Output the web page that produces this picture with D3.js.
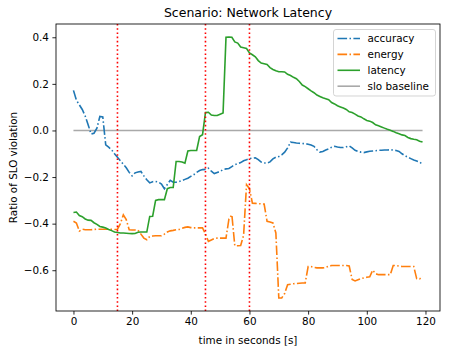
<!DOCTYPE html>
<html>
<head>
<meta charset="utf-8">
<script src="https://cdn.jsdelivr.net/npm/d3@7"></script>
<style>
  body { margin: 0; background: #fff; }
  text { font-family: "DejaVu Sans", sans-serif; }
</style>
</head>
<body>
<script>
// time index in seconds (one sample per second)
var seconds = d3.range(0, 120);

var accuracy = [
  0.172, 0.130, 0.110, 0.090, 0.062, 0.025, -0.015, -0.012, 0.010, 0.060,
  0.058, -0.062, -0.072, -0.083, -0.100, -0.115, -0.130, -0.145, -0.160, -0.180,
  -0.195, -0.182, -0.178, -0.176, -0.195, -0.212, -0.225, -0.220, -0.219, -0.222,
  -0.230, -0.250, -0.232, -0.214, -0.222, -0.222, -0.219, -0.215, -0.210, -0.205,
  -0.197, -0.190, -0.180, -0.172, -0.168, -0.167, -0.162, -0.175, -0.185, -0.180,
  -0.176, -0.168, -0.165, -0.163, -0.155, -0.147, -0.143, -0.138, -0.130, -0.126,
  -0.121, -0.119, -0.117, -0.125, -0.136, -0.140, -0.140, -0.135, -0.122, -0.115,
  -0.112, -0.105, -0.093, -0.075, -0.050, -0.052, -0.054, -0.055, -0.056, -0.057,
  -0.059, -0.062, -0.068, -0.083, -0.093, -0.090, -0.084, -0.079, -0.072, -0.068,
  -0.071, -0.073, -0.073, -0.070, -0.066, -0.075, -0.085, -0.090, -0.093, -0.095,
  -0.092, -0.089, -0.088, -0.087, -0.085, -0.085, -0.084, -0.084, -0.083, -0.084,
  -0.086, -0.090, -0.100, -0.108, -0.115, -0.121, -0.127, -0.131, -0.136, -0.145
];

var energy = [
  -0.390, -0.397, -0.432, -0.424, -0.426, -0.426, -0.426, -0.425, -0.424, -0.424,
  -0.424, -0.424, -0.424, -0.424, -0.425, -0.424, -0.400, -0.362, -0.383, -0.426,
  -0.427, -0.427, -0.428, -0.445, -0.462, -0.469, -0.455, -0.453, -0.452, -0.452,
  -0.452, -0.445, -0.436, -0.431, -0.429, -0.426, -0.425, -0.420, -0.416, -0.414,
  -0.417, -0.418, -0.418, -0.418, -0.418, -0.445, -0.476, -0.470, -0.464, -0.462,
  -0.462, -0.462, -0.462, -0.380, -0.362, -0.495, -0.495, -0.494, -0.450, -0.233,
  -0.250, -0.312, -0.313, -0.314, -0.315, -0.316, -0.390, -0.393, -0.397, -0.440,
  -0.719, -0.719, -0.700, -0.662, -0.660, -0.658, -0.657, -0.656, -0.655, -0.655,
  -0.584, -0.584, -0.588, -0.590, -0.590, -0.590, -0.588, -0.583, -0.580, -0.580,
  -0.580, -0.580, -0.580, -0.580, -0.582, -0.640, -0.646, -0.641, -0.636, -0.633,
  -0.630, -0.628, -0.600, -0.615, -0.619, -0.619, -0.619, -0.619, -0.619, -0.580,
  -0.580, -0.582, -0.584, -0.584, -0.584, -0.584, -0.584, -0.636, -0.637, -0.627
];

var latency = [
  -0.352, -0.350, -0.365, -0.370, -0.380, -0.385, -0.386, -0.396, -0.403, -0.412,
  -0.415, -0.419, -0.425, -0.430, -0.436, -0.438, -0.440, -0.440, -0.441, -0.442,
  -0.443, -0.442, -0.437, -0.436, -0.436, -0.436, -0.369, -0.368, -0.300, -0.297,
  -0.297, -0.297, -0.250, -0.245, -0.245, -0.133, -0.133, -0.135, -0.140, -0.088,
  -0.086, -0.086, -0.086, -0.026, -0.018, 0.077, 0.078, 0.066, 0.064, 0.064,
  0.070, 0.075, 0.400, 0.401, 0.400, 0.380, 0.375, 0.358, 0.355, 0.352,
  0.333, 0.325, 0.316, 0.300, 0.289, 0.286, 0.283, 0.270, 0.262, 0.256,
  0.252, 0.252, 0.251, 0.241, 0.236, 0.228, 0.222, 0.210, 0.195, 0.188,
  0.179, 0.170, 0.162, 0.152, 0.146, 0.140, 0.136, 0.132, 0.120, 0.114,
  0.106, 0.101, 0.096, 0.090, 0.080, 0.077, 0.070, 0.062, 0.058, 0.050,
  0.043, 0.040, 0.034, 0.024, 0.020, 0.015, 0.010, 0.005, 0.001, -0.004,
  -0.010, -0.014, -0.019, -0.022, -0.030, -0.035, -0.038, -0.040, -0.046, -0.050
];

var sloBaseline = 0;
var events = [15, 45, 60];

var xTicks = [0, 20, 40, 60, 80, 100, 120],
    yTicks = [-0.6, -0.4, -0.2, 0.0, 0.2, 0.4];

var seriesNames = ['accuracy', 'energy', 'latency', 'slo baseline'];

var margin = {top: 24, right: 9, bottom: 41, left: 56},
    outerWidth = 449,
    outerHeight = 352,
    width = outerWidth - margin.left - margin.right,
    height = outerHeight - margin.top - margin.bottom;

var svg = d3.select('body').append('svg')
    .attr('width', outerWidth)
    .attr('height', outerHeight);

var g = svg.append('g')
    .attr('transform', 'translate(' + margin.left + ',' + margin.top + ')');

// matplotlib style 5% margins
var xMin = d3.min(seconds), xMax = d3.max(seconds),
    xPad = (xMax - xMin) * 0.05;
var allVals = accuracy.concat(energy, latency, [sloBaseline]);
var yMin = d3.min(allVals), yMax = d3.max(allVals),
    yPad = (yMax - yMin) * 0.05;

var x = d3.scaleLinear().domain([xMin - xPad, xMax + xPad]).range([0, width]);
var y = d3.scaleLinear().domain([yMin - yPad, yMax + yPad]).range([height, 0]);

var series = [
  {name: 'accuracy', values: accuracy, color: '#1f77b4', dash: '9.6,2.4,1.5,2.4'},
  {name: 'energy', values: energy, color: '#ff7f0e', dash: '9.6,2.4,1.5,2.4'},
  {name: 'latency', values: latency, color: '#2ca02c', dash: null}
];

var line = d3.line()
    .x(function(d) { return x(d[0]); })
    .y(function(d) { return y(d[1]); });

// slo baseline
g.append('path')
    .attr('d', line([[xMin, sloBaseline], [xMax, sloBaseline]]))
    .attr('fill', 'none')
    .attr('stroke', '#a9a9a9')
    .attr('stroke-width', 1.6);

g.selectAll('.series')
    .data(series)
    .enter()
    .append('path')
    .attr('class', 'series')
    .attr('d', function(s) { return line(seconds.map(function(t, i) { return [t, s.values[i]]; })); })
    .attr('fill', 'none')
    .attr('stroke', function(s) { return s.color; })
    .attr('stroke-width', 1.6)
    .attr('stroke-dasharray', function(s) { return s.dash; });

// event markers
g.selectAll('.event')
    .data(events)
    .enter()
    .append('line')
    .attr('class', 'event')
    .attr('x1', function(d) { return x(d); })
    .attr('x2', function(d) { return x(d); })
    .attr('y1', 0)
    .attr('y2', height)
    .attr('stroke', 'red')
    .attr('stroke-width', 1.6)
    .attr('stroke-dasharray', '1.6,2.6');

// axes
var xAxis = g.append('g')
    .attr('transform', 'translate(0,' + height + ')')
    .call(d3.axisBottom(x).tickValues(xTicks).tickSize(3.6).tickPadding(3.5).tickFormat(d3.format('d')));
var yAxis = g.append('g')
    .call(d3.axisLeft(y).tickValues(yTicks).tickSize(3.6).tickPadding(3.5).tickFormat(d3.format('.1f')));

[xAxis, yAxis].forEach(function(a) {
  a.select('.domain').remove();
  a.selectAll('line').attr('stroke', '#000').attr('stroke-width', 0.85);
  a.selectAll('text').attr('font-size', '10.4px').attr('fill', '#000')
      .style('font-family', '"DejaVu Sans", sans-serif');
});

// frame
g.append('rect')
    .attr('width', width)
    .attr('height', height)
    .attr('fill', 'none')
    .attr('stroke', '#000')
    .attr('stroke-width', 0.85);

// title and labels
svg.append('text')
    .attr('x', margin.left + width / 2)
    .attr('y', 17)
    .attr('text-anchor', 'middle')
    .attr('font-size', '12.5px')
    .text('Scenario: Network Latency');

svg.append('text')
    .attr('x', margin.left + width / 2)
    .attr('y', 344)
    .attr('text-anchor', 'middle')
    .attr('font-size', '10.4px')
    .text('time in seconds [s]');

svg.append('text')
    .attr('transform', 'translate(17,' + (margin.top + height / 2) + ') rotate(-90)')
    .attr('text-anchor', 'middle')
    .attr('font-size', '10.4px')
    .text('Ratio of SLO violation');

// legend
var legendItems = series.concat([{name: 'slo baseline', color: '#a9a9a9', dash: null}]);
var legend = svg.append('g').attr('transform', 'translate(333.5,29.5)');

legend.append('rect')
    .attr('width', 102)
    .attr('height', 66.5)
    .attr('rx', 2.5)
    .attr('fill', 'rgba(255,255,255,0.8)')
    .attr('stroke', '#cccccc')
    .attr('stroke-width', 0.85);

var items = legend.selectAll('.item')
    .data(legendItems)
    .enter()
    .append('g')
    .attr('class', 'item')
    .attr('transform', function(d, i) { return 'translate(0,' + (9 + i * 15.9) + ')'; });

items.append('line')
    .attr('x1', 4)
    .attr('x2', 26.5)
    .attr('stroke', function(d) { return d.color; })
    .attr('stroke-width', 1.6)
    .attr('stroke-dasharray', function(d) { return d.dash; });

items.append('text')
    .attr('x', 34)
    .attr('y', 3.7)
    .attr('font-size', '10.4px')
    .text(function(d) { return d.name; });
</script>
</body>
</html>
